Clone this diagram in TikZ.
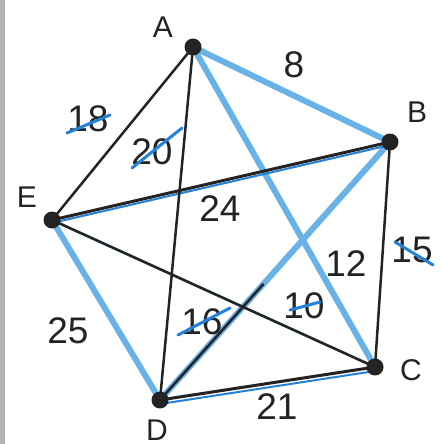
\documentclass[tikz,border=0pt]{standalone}
\usepackage{fontspec}
\setmainfont{Liberation Sans}
\usetikzlibrary{calc, backgrounds}
\definecolor{hl}{RGB}{105,178,232}
\definecolor{hldark}{RGB}{35,130,215}
\definecolor{ink}{RGB}{35,35,35}

\begin{document}
\begin{tikzpicture}[
    x=1pt, y=-1pt,
    vertex/.style={circle, fill=ink, inner sep=0pt, minimum size=17pt},
    vname/.style={font=\fontsize{30}{32}\selectfont, text=ink},
    weight/.style={font=\fontsize{37}{39}\selectfont, text=ink},
    plain/.style={draw=ink, line width=2.5pt},
    marked/.style={draw=hl, line width=6pt, line cap=round},
    trace/.style={draw=hldark, line width=2pt, line cap=round},
    strike/.style={draw=hldark, line width=3pt, line cap=round}
]
\useasboundingbox (0,0) rectangle (440,444);
\fill[black!30] (0,0) rectangle (5,444);

% vertices
\node[vertex] (A) at (193,47) {};
\node[vertex] (B) at (390,142) {};
\node[vertex] (C) at (375,367) {};
\node[vertex] (D) at (160,400) {};
\node[vertex] (E) at (52,220) {};

\node[vname] (nA) at (163,27) {A};
\node[vname] (nB) at (417,112) {B};
\node[vname] (nC) at (411,370) {C};
\node[vname] (nD) at (157,430) {D};
\node[vname] (nE) at (27,197) {E};

\begin{scope}[on background layer]
% highlighted edges
\draw[marked] (A.center) -- (B.center);
\draw[marked] (A.center) -- (C.center);
\draw[marked] (E.center) -- (D.center);
\draw[marked] (B.center) -- (D.center);
\draw[marked, line width=3pt, opacity=0.5] (E.center) -- (C.center);
\draw[trace] ([yshift=-3pt]E.center) -- ([yshift=-3pt]B.center);
\draw[trace] ([yshift=-4pt]D.center) -- ([yshift=-4pt]C.center);

% plain edges
\draw[plain] (A.center) -- (E.center);
\draw[plain] (A.center) -- (D.center);
\draw[plain, line width=3pt] (E.center) -- (B.center);
\draw[plain] (B.center) -- (C.center);
\draw[plain] (E.center) -- (C.center);
\draw[plain, line width=3pt] (D.center) -- (C.center);
\draw[plain] ($(B)!0.55!(D)$) -- (D.center);
\end{scope}

% weights
\node[weight] (w8) at (294,65) {8};
\node[weight] (w18) at (88,119) {18};
\node[weight] (w20) at (152,152) {20};
\node[weight] (w24) at (220,209) {24};
\node[weight] (w12) at (346,264) {12};
\node[weight] (w15) at (412,250) {15};
\node[weight] (w10) at (304,306) {10};
\node[weight] (w16) at (202,322) {16};
\node[weight] (w25) at (68,331) {25};
\node[weight] (w21) at (277,407) {21};

% crossed out weights
\draw[strike] ([shift={(-21pt,-14pt)}]w18.center) -- ([shift={(22pt,4pt)}]w18.center);
\draw[strike] ([shift={(-20pt,-16pt)}]w20.center) -- ([shift={(30pt,24pt)}]w20.center);
\draw[strike] ([shift={(-17pt,8pt)}]w15.center) -- ([shift={(21pt,-15pt)}]w15.center);
\draw[strike] ([shift={(-14pt,-4pt)}]w10.center) -- ([shift={(16pt,4pt)}]w10.center);
\draw[strike] ([shift={(-24pt,-13pt)}]w16.center) -- ([shift={(28pt,14pt)}]w16.center);
\end{tikzpicture}
\end{document}
